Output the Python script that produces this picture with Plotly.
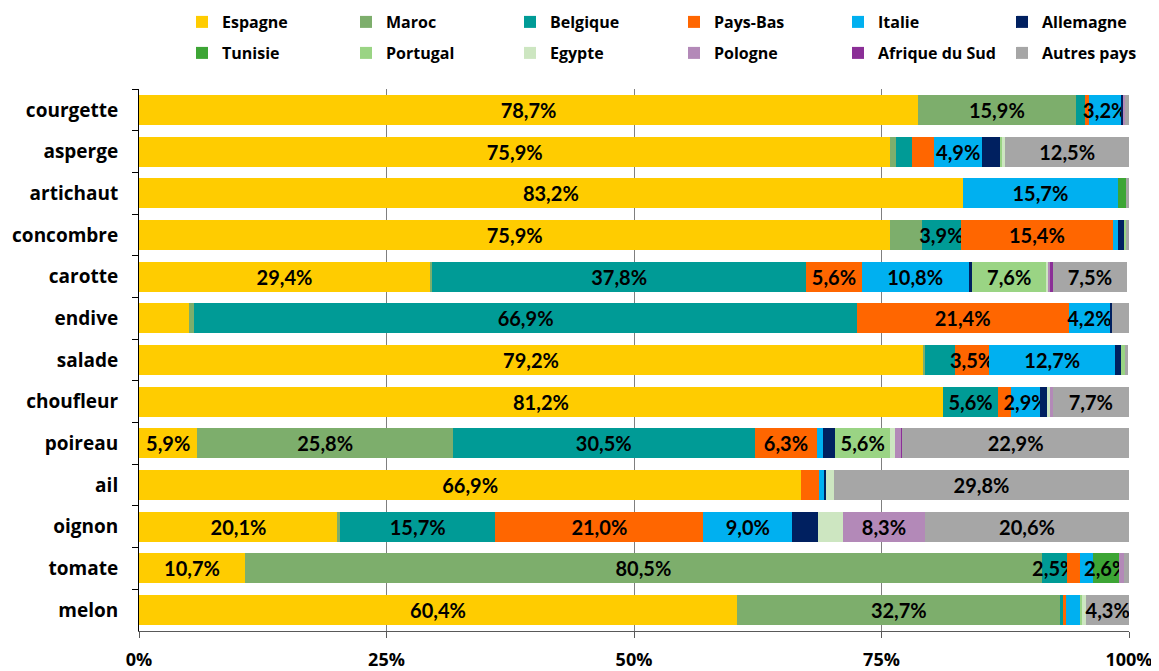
import plotly.graph_objects as go

produits = ["courgette", "asperge", "artichaut", "concombre", "carotte", "endive", "salade",
            "choufleur", "poireau", "ail", "oignon", "tomate", "melon"]

pays = ["Espagne", "Maroc", "Belgique", "Pays-Bas", "Italie", "Allemagne",
        "Tunisie", "Portugal", "Egypte", "Pologne", "Afrique du Sud", "Autres pays"]

# parts (%) par pays, dans l'ordre des produits
espagne   = [78.7, 75.9, 83.2, 75.9, 29.4, 5.0, 79.2, 81.2, 5.9, 66.9, 20.1, 10.7, 60.4]
maroc     = [15.9, 0.6, 0.0, 3.2, 0.2, 0.6, 0.2, 0.0, 25.8, 0.0, 0.2, 80.5, 32.7]
belgique  = [1.0, 1.6, 0.0, 3.9, 37.8, 66.9, 3.0, 5.6, 30.5, 0.0, 15.7, 2.5, 0.2]
pays_bas  = [0.4, 2.2, 0.0, 15.4, 5.6, 21.4, 3.5, 1.3, 6.3, 1.8, 21.0, 1.3, 0.3]
italie    = [3.2, 4.9, 15.7, 0.5, 10.8, 4.2, 12.7, 2.9, 0.6, 0.5, 9.0, 1.4, 1.4]
allemagne = [0.2, 1.8, 0.0, 0.6, 0.3, 0.2, 0.6, 0.7, 1.2, 0.2, 2.6, 0.0, 0.0]
tunisie   = [0.0, 0.0, 0.8, 0.0, 0.0, 0.0, 0.0, 0.0, 0.0, 0.0, 0.0, 2.6, 0.0]
portugal  = [0.0, 0.2, 0.0, 0.2, 7.6, 0.0, 0.4, 0.0, 5.6, 0.0, 0.0, 0.0, 0.3]
egypte    = [0.0, 0.3, 0.0, 0.0, 0.2, 0.0, 0.0, 0.3, 0.5, 0.8, 2.5, 0.0, 0.4]
pologne   = [0.2, 0.0, 0.0, 0.0, 0.2, 0.0, 0.0, 0.3, 0.6, 0.0, 8.3, 0.5, 0.0]
afrique   = [0.0, 0.0, 0.0, 0.0, 0.2, 0.0, 0.0, 0.0, 0.1, 0.0, 0.0, 0.0, 0.0]
autres    = [0.4, 12.5, 0.3, 0.3, 7.5, 1.7, 0.3, 7.7, 22.9, 29.8, 20.6, 0.5, 4.3]

valeurs = [espagne, maroc, belgique, pays_bas, italie, allemagne,
           tunisie, portugal, egypte, pologne, afrique, autres]

couleurs = ["#FFCC00", "#7DAE6C", "#009B96", "#FF6600", "#00B0F0", "#002060",
            "#3DA535", "#9AD484", "#CDE6C1", "#B389B8", "#8B2F97", "#A6A6A6"]

# segments qui portent une étiquette
etiquettes = {
    "courgette": ["Espagne", "Maroc", "Italie"],
    "asperge": ["Espagne", "Italie", "Autres pays"],
    "artichaut": ["Espagne", "Italie"],
    "concombre": ["Espagne", "Belgique", "Pays-Bas"],
    "carotte": ["Espagne", "Belgique", "Pays-Bas", "Italie", "Portugal", "Autres pays"],
    "endive": ["Belgique", "Pays-Bas", "Italie"],
    "salade": ["Espagne", "Pays-Bas", "Italie"],
    "choufleur": ["Espagne", "Belgique", "Italie", "Autres pays"],
    "poireau": ["Espagne", "Maroc", "Belgique", "Pays-Bas", "Portugal", "Autres pays"],
    "ail": ["Espagne", "Autres pays"],
    "oignon": ["Espagne", "Belgique", "Pays-Bas", "Italie", "Pologne", "Autres pays"],
    "tomate": ["Espagne", "Maroc", "Belgique", "Tunisie"],
    "melon": ["Espagne", "Maroc", "Autres pays"],
}

FONT = "'Open Sans', Lato, sans-serif"
# la page a une marge de 8 px : la figure fait 1151 x 663
W, H = 1151, 663

fig = go.Figure()
legendes = {}
for i, (nom, vals, col) in enumerate(zip(pays, valeurs, couleurs)):
    textes = [f"{v:.1f}%".replace(".", ",") if nom in etiquettes[p] else ""
              for p, v in zip(produits, vals)]
    key = "legend" if i == 0 else f"legend{i + 1}"
    fig.add_trace(go.Bar(
        y=produits, x=vals, name=nom, orientation="h",
        marker=dict(color=col, line=dict(width=0)),
        text=textes, textposition="inside", insidetextanchor="middle",
        constraintext="none", textangle=0,
        textfont=dict(family="Lato, sans-serif", size=20, color="#000000", weight="bold"),
        legend=key, showlegend=True, hoverinfo="skip",
    ))
    # une légende par pays : 6 colonnes, 2 lignes
    ligne, colonne = divmod(i, 6)
    legendes[key] = dict(
        xref="container", yref="container", xanchor="left", yanchor="middle",
        x=(174 + 164 * colonne) / W, y=1 - (14 + 31 * ligne) / H,
        bgcolor="rgba(0,0,0,0)", itemwidth=30,
        font=dict(family=FONT, size=16, color="#000000", weight="bold"),
        itemclick=False, itemdoubleclick=False,
    )

fig.update_layout(
    width=W, height=H, showlegend=True,
    barmode="stack", bargap=0.28,
    plot_bgcolor="white", paper_bgcolor="white",
    margin=dict(l=131, r=30, t=81, b=40, autoexpand=False),
    font=dict(family=FONT, color="#000000"),
    **legendes,
)

fig.update_xaxes(
    range=[0, 100], tickvals=[0, 25, 50, 75, 100], ticktext=["0%", "25%", "50%", "75%", "100%"],
    showgrid=True, gridcolor="#7F7F7F", gridwidth=1, zeroline=False,
    showline=True, linecolor="#595959", linewidth=1,
    ticks="outside", ticklen=6, tickcolor="#595959", ticklabelstandoff=6,
    tickfont=dict(family=FONT, size=18, color="#000000", weight="bold"),
    fixedrange=True, automargin=False,
)
fig.update_yaxes(
    autorange="reversed", showgrid=False, zeroline=False,
    showline=True, linecolor="#000000", linewidth=1,
    ticks="outside", ticklen=6, tickcolor="#000000", tickson="boundaries",
    ticklabelstandoff=16,
    tickfont=dict(family=FONT, size=19, color="#000000", weight="bold"),
    fixedrange=True, automargin=False,
)

fig.write_html("out.html")
